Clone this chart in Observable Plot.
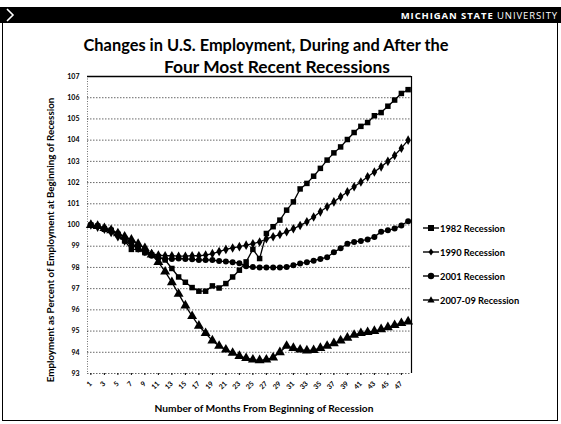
<!DOCTYPE html>
<html><head><meta charset="utf-8">
<script src="https://cdn.jsdelivr.net/npm/d3@7"></script>
<script src="https://cdn.jsdelivr.net/npm/@observablehq/plot@0.6"></script>
<style>
body{margin:0;background:#fff;}
#page{position:relative;width:561px;height:424px;overflow:hidden;background:#fff;font-family:Lato,"Open Sans",sans-serif;color:#000;}
#bar{position:absolute;left:0;top:7px;width:561px;height:16px;background:#000;}
#brand{position:absolute;right:3px;top:8.5px;color:#fff;font:bold 9.5px "Open Sans",sans-serif;letter-spacing:0.9px;white-space:nowrap;}
#brand span{font-weight:normal;}
#chev{position:absolute;left:5px;top:7px;width:10px;height:16px;}
#frame{position:absolute;left:2px;top:23px;width:554px;height:397px;border:1.5px solid #000;border-top:none;}
.t{position:absolute;transform:translate(-50%,-50%);white-space:nowrap;font-weight:bold;}
#t1{left:266px;top:44px;font-size:16.4px;}
#t2{left:277px;top:66px;font-size:17.4px;}
#ytitle{left:50px;top:240px;font-size:9.8px;transform:translate(-50%,-50%) rotate(-90deg);}
#xtitle{left:264px;top:408px;font-size:10.2px;}
#chart{position:absolute;left:0;top:62px;}
#legend{position:absolute;left:423px;top:216px;}
.row{height:24px;display:flex;align-items:center;font-weight:bold;font-size:9.3px;white-space:nowrap;}
.row svg{margin-right:1px;}
</style>
</head><body>
<div id="page">
  <div id="bar"></div>
  <svg id="chev" viewBox="0 0 10 16"><path d="M2,2 L8,8 L2,14" fill="none" stroke="#fff" stroke-width="1.6"/></svg>
  <div id="brand">MICHIGAN STATE <span>UNIVERSITY</span></div>
  <div id="frame"></div>
  <div class="t" id="t1">Changes in U.S. Employment, During and After the</div>
  <div class="t" id="t2">Four Most Recent Recessions</div>
  <div class="t" id="ytitle">Employment as Percent of Employment at Beginning of Recession</div>
  <div class="t" id="xtitle">Number of Months From Beginning of Recession</div>
  <div id="chart"></div>
  <div id="legend"></div>
</div>
<script>
const months = d3.range(1, 49);
const seriesNames = ["1982 Recession", "1990 Recession", "2001 Recession", "2007-09 Recession"];
const symbols = ["square", "diamond", "circle", "triangle"];
const yTicks = [93, 94, 95, 96, 97, 98, 99, 100, 101, 102, 103, 104, 105, 106, 107];
const xTicks = [1,3,5,7,9,11,13,15,17,19,21,23,25,27,29,31,33,35,37,39,41,43,45,47];

const r1982 = [100, 99.95, 99.8, 99.75, 99.55, 99.25, 98.85, 98.85, 98.7, 98.6,
  98.5, 98.35, 97.95, 97.55, 97.3, 97.05, 96.88, 96.88, 97.13, 97.03,
  97.24, 97.55, 97.87, 98.26, 98.85, 98.42, 99.6, 99.92, 100.23, 100.7,
  101.09, 101.7, 101.96, 102.3, 102.67, 103.06, 103.4, 103.68, 104.03, 104.36,
  104.65, 104.83, 105.15, 105.3, 105.6, 105.89, 106.2, 106.38];
const r1990 = [100, 99.9, 99.8, 99.65, 99.45, 99.25, 99.05, 98.9, 98.75, 98.65,
  98.58, 98.55, 98.55, 98.53, 98.53, 98.55, 98.55, 98.58, 98.65, 98.75,
  98.85, 98.92, 98.98, 99.05, 99.12, 99.2, 99.35, 99.45, 99.55, 99.68,
  99.82, 99.98, 100.15, 100.38, 100.62, 100.86, 101.09, 101.33, 101.56, 101.8,
  102.03, 102.27, 102.5, 102.74, 103.0, 103.28, 103.62, 104.0];
const r2001 = [100, 99.95, 99.85, 99.75, 99.6, 99.4, 99.15, 98.9, 98.7, 98.55,
  98.45, 98.4, 98.4, 98.42, 98.4, 98.38, 98.35, 98.35, 98.35, 98.3,
  98.28, 98.25, 98.2, 98.05, 98.02, 98.0, 98.0, 98.0, 98.0, 98.02,
  98.1, 98.18, 98.25, 98.32, 98.4, 98.48, 98.72, 98.9, 99.12, 99.2,
  99.25, 99.32, 99.44, 99.68, 99.75, 99.83, 99.98, 100.18];
const r2008 = [100, 99.95, 99.85, 99.75, 99.6, 99.45, 99.3, 99.1, 98.9, 98.6,
  98.25, 97.8, 97.3, 96.75, 96.2, 95.7, 95.25, 94.9, 94.55, 94.3,
  94.12, 93.97, 93.82, 93.72, 93.65, 93.62, 93.65, 93.75, 94.0, 94.3,
  94.2, 94.12, 94.08, 94.1, 94.2, 94.3, 94.42, 94.55, 94.68, 94.82,
  94.9, 94.95, 95.0, 95.08, 95.18, 95.28, 95.37, 95.45];

const allSeries = [r1982, r1990, r2001, r2008];
const data = allSeries.flatMap((vals, i) => vals.map((v, j) => ({month: months[j], value: v, series: seriesNames[i], symbol: symbols[i]})));
const sizes = {"square": 3.1, "diamond": 2.9, "circle": 3.0, "triangle": 3.7};

const plot = Plot.plot({
  width: 420,
  height: 362,
  marginLeft: 87,
  marginRight: 9,
  marginTop: 14,
  marginBottom: 51,
  style: {background: "transparent", fontFamily: "Lato, sans-serif", color: "#000"},
  x: {domain: [0.5, 48.5]},
  y: {domain: [93, 107]},
  marks: [
    Plot.gridY(yTicks.filter(d => d < 107), {stroke: "#000", strokeOpacity: 0.75, strokeDasharray: "1.5,1.5", strokeWidth: 0.8}),
    Plot.ruleY([107], {stroke: "#000", strokeWidth: 1.6}),
    Plot.ruleX([0.5], {stroke: "#000", strokeOpacity: 0.7, strokeDasharray: "1,1.5", strokeWidth: 0.8}),
    Plot.ruleX([48.5], {stroke: "#000", strokeWidth: 1.2}),
    Plot.axisY({ticks: yTicks, tickSize: 0, tickPadding: 8, fontSize: 7, fontWeight: "bold", label: null}),
    Plot.axisX({ticks: xTicks, tickSize: 2, tickRotate: -45, tickPadding: 7, fontSize: 7, fontWeight: "bold", label: null, tickFormat: d => String(d)}),
    Plot.line(data, {x: "month", y: "value", z: "series", stroke: "#000", strokeWidth: 1.3}),
    ...symbols.map(s => Plot.dot(data.filter(d => d.symbol === s), {x: "month", y: "value", symbol: () => s, fill: "#000", stroke: "none", r: sizes[s]}))
  ]
});
document.getElementById("chart").appendChild(plot);

const legend = document.getElementById("legend");
const symbolPaths = {
  square: '<rect x="5" y="2" width="6" height="6" fill="#000"/>',
  diamond: '<path d="M8,1.5 L10.5,5 L8,8.5 L5.5,5 Z" fill="#000"/>',
  circle: '<circle cx="8" cy="5" r="3.2" fill="#000"/>',
  triangle: '<path d="M8,1.3 L11.6,7.6 L4.4,7.6 Z" fill="#000"/>'
};
seriesNames.forEach((name, i) => {
  const row = document.createElement("div");
  row.className = "row";
  row.innerHTML = `<svg width="16" height="10"><line x1="0" y1="5" x2="16" y2="5" stroke="#000" stroke-width="1.4"/>${symbolPaths[symbols[i]]}</svg><span>${name}</span>`;
  legend.appendChild(row);
});
</script>
</body></html>
